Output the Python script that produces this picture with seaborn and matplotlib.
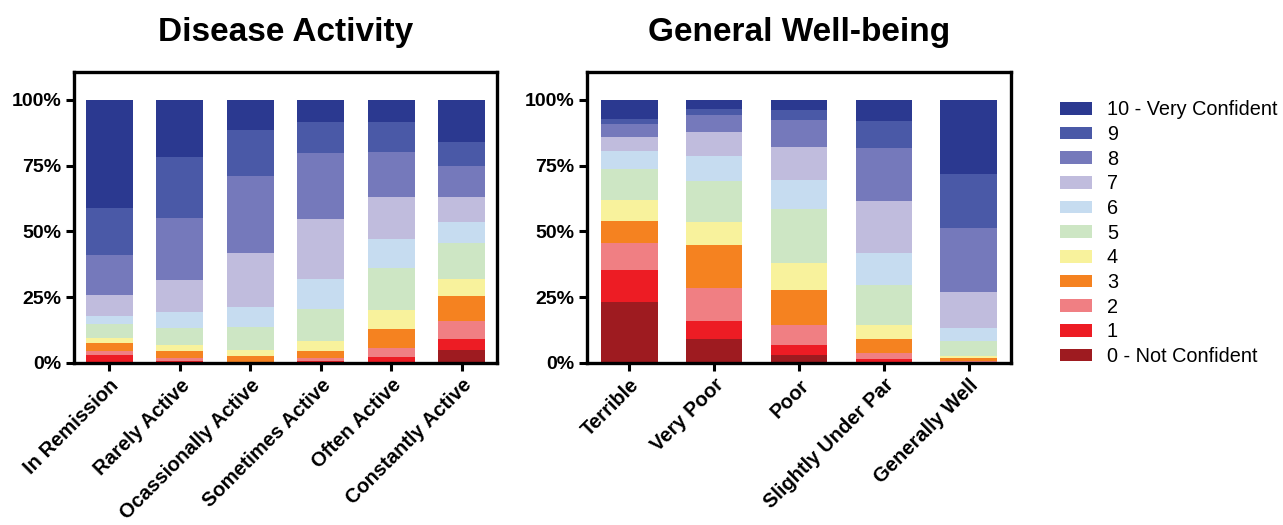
import matplotlib
matplotlib.use('Agg')
import matplotlib.pyplot as plt
from matplotlib.patches import Patch
import numpy as np
import pandas as pd
import seaborn as sns

# Confidence levels, 0 (Not Confident) .. 10 (Very Confident)
levels = ['0 - Not Confident', '1', '2', '3', '4', '5', '6', '7', '8', '9', '10 - Very Confident']
level_colors = ['#9E1B20', '#ED1C24', '#F07F83', '#F58220', '#F8F29C', '#CDE6C4',
                '#C6DCF0', '#C0BCDD', '#7579BB', '#4A59A7', '#2B3990']

# Disease Activity (% of respondents per level, 0..10)
activity_labels = ['In Remission', 'Rarely Active', 'Ocassionally Active',
                   'Sometimes Active', 'Often Active', 'Constantly Active']
in_remission = [0.5, 2.4, 1.7, 2.9, 2.1, 5.3, 3.0, 8.1, 15.1, 17.9, 41.0]
rarely_active = [0.3, 0.5, 1.2, 2.6, 2.2, 6.6, 6.1, 11.9, 23.8, 22.9, 21.9]
occasionally_active = [0.0, 0.2, 0.3, 2.2, 2.4, 8.6, 7.6, 20.5, 29.4, 17.3, 11.5]
sometimes_active = [0.3, 0.5, 1.2, 2.6, 3.8, 12.2, 11.5, 22.5, 25.1, 11.9, 8.4]
often_active = [0.3, 2.1, 3.4, 7.2, 7.0, 16.2, 10.8, 16.1, 17.2, 11.1, 8.6]
constantly_active = [5.1, 3.9, 7.0, 9.5, 6.3, 13.7, 8.2, 9.5, 11.7, 8.9, 16.2]

# General Well-being
wellbeing_labels = ['Terrible', 'Very Poor', 'Poor', 'Slightly Under Par', 'Generally Well']
terrible = [23.3, 11.9, 10.4, 8.4, 8.1, 11.5, 7.0, 5.4, 4.8, 2.1, 7.1]
very_poor = [9.1, 6.9, 12.4, 16.6, 8.6, 15.6, 9.5, 9.2, 6.4, 2.2, 3.5]
poor = [3.0, 3.8, 7.6, 13.2, 10.3, 20.5, 11.2, 12.6, 10.2, 3.8, 3.8]
slightly_under_par = [0.5, 1.1, 2.1, 5.3, 5.4, 15.3, 12.2, 19.7, 20.0, 10.4, 8.0]
generally_well = [0.2, 0.3, 0.3, 1.0, 0.9, 5.7, 5.0, 13.5, 24.3, 20.8, 28.0]

sns.set_style('white')
plt.rcParams['font.family'] = ['Liberation Sans', 'DejaVu Sans']
plt.rcParams['text.color'] = 'black'
plt.rcParams['xtick.color'] = 'black'
plt.rcParams['ytick.color'] = 'black'


def draw_stacked(ax, labels, rows, title):
    df = pd.DataFrame(rows, index=labels, columns=levels)
    cum = df.cumsum(axis=1)
    # draw from the top level down, each one covering the part below it
    for i in range(len(levels) - 1, -1, -1):
        sns.barplot(x=labels, y=cum[levels[i]].values, color=level_colors[i],
                    saturation=1, width=0.667, linewidth=0, ax=ax)
    ax.set_ylim(0, 110.6)
    ax.set_xlim(-0.5, len(labels) - 0.5)
    ax.set_yticks([0, 25, 50, 75, 100])
    ax.set_yticklabels(['0%', '25%', '50%', '75%', '100%'], fontsize=14, fontweight='bold')
    ax.set_xticks(range(len(labels)))
    ax.set_xticklabels(labels, rotation=45, ha='right', rotation_mode='anchor',
                       fontsize=14.5, fontweight='bold')
    ax.tick_params(axis='both', direction='out', length=6, width=2.2, color='black',
                   bottom=True, left=True, pad=3)
    for s in ax.spines.values():
        s.set_visible(True)
        s.set_color('black')
        s.set_linewidth(2.4)
    ax.set_title(title, fontsize=24, fontweight='bold', pad=22)
    ax.set_xlabel('')
    ax.set_ylabel('')


fig = plt.figure(figsize=(12.83, 5.25), dpi=100)
ax1 = fig.add_axes([0.0577, 0.3086, 0.3297, 0.5543])
ax2 = fig.add_axes([0.4575, 0.3086, 0.3305, 0.5543])

draw_stacked(ax1, activity_labels,
             [in_remission, rarely_active, occasionally_active,
              sometimes_active, often_active, constantly_active],
             'Disease Activity')
draw_stacked(ax2, wellbeing_labels,
             [terrible, very_poor, poor, slightly_under_par, generally_well],
             'General Well-being')

handles = [Patch(facecolor=level_colors[i], edgecolor='none', label=levels[i])
           for i in range(len(levels) - 1, -1, -1)]
fig.legend(handles=handles, loc='upper left', bbox_to_anchor=(0.8125, 0.843),
           frameon=False, fontsize=14.3, handlelength=1.6, handleheight=0.6,
           labelspacing=0.285, handletextpad=0.75)

fig.savefig('out.png', dpi=100)
